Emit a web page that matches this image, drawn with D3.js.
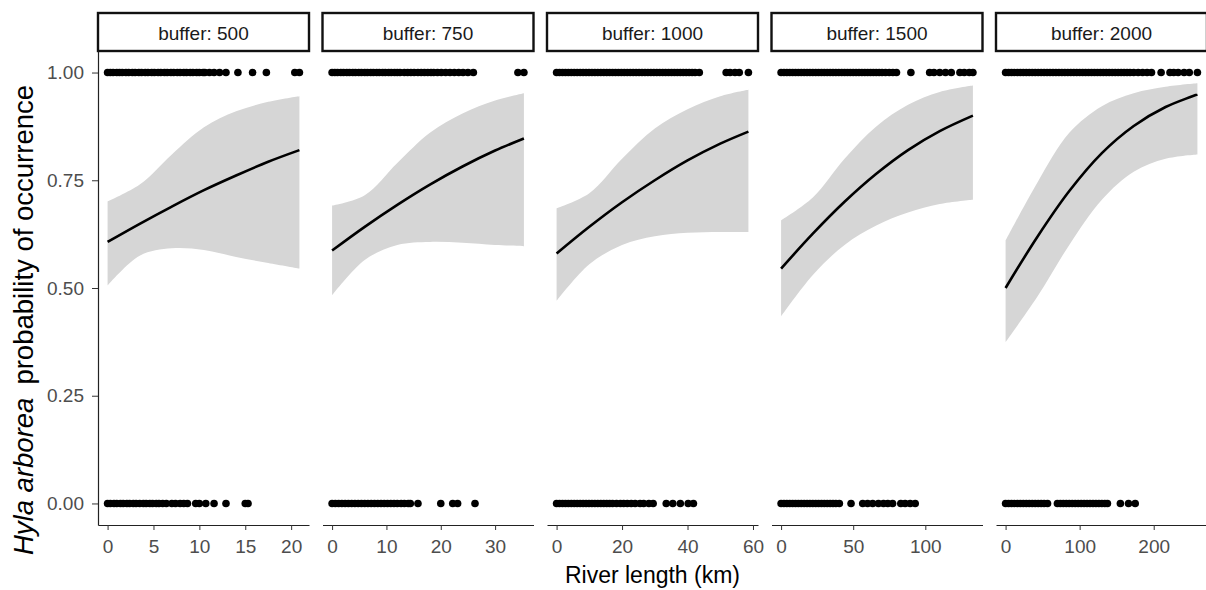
<!DOCTYPE html>
<html lang="en">
  <head>
    <meta charset="utf-8">
    <title>Hyla arborea occurrence vs river length</title>
    <style type="text/css">
      html, body{ margin: 0; padding: 0; background: white; }
      body{ font-family: "Liberation Sans", Arial, sans-serif; }
      .tick text{ fill: #4d4d4d; }
      .tick line{ stroke: #333; }
      .domain{ stroke: #222; }
    </style>
  </head>
  <body>
    <div id='svg_container'></div>

    <script src="https://d3js.org/d3.v7.min.js"></script>
    <script type="text/javascript">

      // facets
      const buffers = [500, 750, 1000, 1500, 2000];
      const xMax = [20.9, 35.3, 58.6, 133, 259];
      const xTicks = [[0, 5, 10, 15, 20], [0, 10, 20, 30], [0, 20, 40, 60], [0, 50, 100], [0, 100, 200]];
      const yTicks = [0, 0.25, 0.5, 0.75, 1];

      // observed river lengths (km) where the species was present (1) / absent (0)
      const presentX = [
        [0,0.3,0.6,1.0,1.3,1.6,2.0,2.3,2.7,3.0,3.4,3.7,4.1,4.4,4.8,5.1,5.5,5.8,6.2,6.5,6.9,7.2,7.6,7.9,8.3,8.6,9.0,9.3,9.7,10.0,10.4,10.6,11.1,11.6,12.2,12.9,14.2,15.8,17.3,20.4,20.9],
        [0,0.5,1.0,1.6,2.1,2.7,3.2,3.8,4.3,4.9,5.4,6.0,6.5,7.1,7.6,8.2,8.7,9.3,9.8,10.4,10.9,11.5,12.0,12.5,13.3,13.9,14.5,15.1,15.8,16.4,17.0,17.6,18.2,18.7,19.4,20.1,20.9,21.7,22.5,23.3,24.1,25.0,26.0,34.2,35.3],
        [0,0.9,1.8,2.7,3.6,4.5,5.4,6.3,7.2,8.1,9.0,9.9,10.8,11.7,12.6,13.5,14.4,15.3,16.2,17.1,18.0,18.9,19.8,20.7,21.6,22.5,23.4,24.3,25.2,26.1,27.0,27.9,28.8,29.7,30.6,31.5,32.4,33.3,34.2,35.1,36.0,36.9,37.8,38.7,39.6,40.5,41.4,42.3,43.6,51.8,53.0,54.5,55.8,58.6],
        [0,2,4,6,8,10,12,14,16,18,20,22,24,26,28,30,32,34,36,38,40,42,44,46,48,50,52,54,56,58,60,62,64,66,68,70,72.4,75,77.5,80,90,103,106,110,114,118,124,127,130.5,133],
        [0,4,8,12,16,20,24,28,32,36,40,44,48,52,56,60,64,68,72,76,80,84,88,92,96,100,104,108,112,116,120,124,128,132,136,140,144,148,152,156,160,164,168,173,179,185,191,197,210,222,227,233,241,248,259]
      ];
      const absentX = [
        [0,0.3,0.7,1.0,1.4,1.7,2.1,2.4,2.8,3.1,3.5,3.9,4.2,4.6,4.9,5.3,5.6,6.0,6.4,7.0,7.4,7.9,8.3,8.7,9.6,10.0,10.7,11.6,12.9,15.0,15.3],
        [0,0.6,1.2,1.8,2.4,3.0,3.6,4.2,4.8,5.4,6.0,6.6,7.2,7.8,8.4,9.0,9.6,10.2,10.8,11.4,12.0,12.7,13.3,14.0,14.4,15.8,20.0,22.2,23.1,26.3],
        [0,0.9,1.8,2.7,3.6,4.5,5.4,6.3,7.2,8.1,9.0,9.9,10.8,11.7,12.6,13.5,14.4,15.3,16.2,17.1,18.3,19.5,20.5,21.6,22.8,24.0,25.5,26.6,28.2,29.5,33.5,35.5,37.8,40.2,41.8],
        [0,2,4,6,8,10,12,14,16,18,20,22,24,26,28,30,32,34,36,38,40.4,48.5,56.6,60,63.5,67.5,71,74,77.3,83,86,89.5,93],
        [0,4,8,12,16,20,24,28,32,36,40,44,48,52,56.6,70,74,78,82,86,90,94,98,102,106,110,114,118,122,126,130,134,137.5,155,166,175]
      ];

      // fitted probability with confidence band
      const curveX = [
        [0, 3.5, 7, 10.5, 14, 17.5, 20.9],
        [0, 6, 12, 18, 24, 30, 35.3],
        [0, 10, 20, 30, 40, 50, 58.6],
        [0, 22, 44, 66, 88, 110, 133],
        [0, 43, 86, 130, 173, 216, 259]
      ];
      const fitY = [
        [0.607, 0.649, 0.689, 0.727, 0.761, 0.793, 0.820],
        [0.587, 0.642, 0.693, 0.740, 0.782, 0.819, 0.847],
        [0.580, 0.642, 0.699, 0.750, 0.796, 0.835, 0.863],
        [0.545, 0.626, 0.700, 0.765, 0.820, 0.864, 0.900],
        [0.500, 0.619, 0.725, 0.813, 0.876, 0.920, 0.949]
      ];
      const lowerY = [
        [0.506, 0.575, 0.592, 0.588, 0.572, 0.558, 0.545],
        [0.483, 0.565, 0.600, 0.607, 0.605, 0.600, 0.597],
        [0.470, 0.555, 0.600, 0.620, 0.628, 0.630, 0.630],
        [0.434, 0.530, 0.600, 0.645, 0.675, 0.695, 0.705],
        [0.374, 0.480, 0.600, 0.705, 0.770, 0.800, 0.810]
      ];
      const upperY = [
        [0.701, 0.740, 0.810, 0.873, 0.910, 0.932, 0.945],
        [0.691, 0.715, 0.790, 0.860, 0.905, 0.935, 0.952],
        [0.685, 0.720, 0.800, 0.870, 0.915, 0.945, 0.960],
        [0.657, 0.710, 0.800, 0.875, 0.925, 0.955, 0.970],
        [0.610, 0.745, 0.860, 0.922, 0.952, 0.967, 0.975]
      ];

      const w = 1206;
      const h = 590;
      const panelLeft = 98, panelStep = 224.5, panelW = 211;
      const panelTop = 51, panelBottom = 525, stripTop = 13;
      const font = '"Liberation Sans", Arial, sans-serif';

      var svg = d3.select('#svg_container').append('svg')
        .attr('width', w).attr('height', h)
        .style('display', 'block')
        .attr('font-family', font);

      var y = d3.scaleLinear().domain([-0.05, 1.05]).range([panelBottom, panelTop]);
      var smooth = d3.curveCatmullRom.alpha(0.5);

      buffers.forEach(function(b, i){
        var left = panelLeft + i * panelStep;
        var R = xMax[i];
        var x = d3.scaleLinear().domain([-0.05 * R, 1.05 * R]).range([left, left + panelW]);

        var g = svg.append('g').attr('class', 'panel');

        var band = curveX[i].map(function(v, k){
          return {x: v, fit: fitY[i][k], lo: lowerY[i][k], hi: upperY[i][k]};
        });

        g.append('path')
          .datum(band)
          .attr('fill', '#d6d6d6')
          .attr('d', d3.area()
            .x(function(d){ return x(d.x); })
            .y0(function(d){ return y(d.lo); })
            .y1(function(d){ return y(d.hi); })
            .curve(smooth));

        g.append('path')
          .datum(band)
          .attr('fill', 'none')
          .attr('stroke', 'black')
          .attr('stroke-width', 2.6)
          .attr('d', d3.line()
            .x(function(d){ return x(d.x); })
            .y(function(d){ return y(d.fit); })
            .curve(smooth));

        var pts = presentX[i].map(function(v){ return {x: v, y: 1}; })
          .concat(absentX[i].map(function(v){ return {x: v, y: 0}; }));

        g.selectAll('circle')
          .data(pts)
          .enter()
          .append('circle')
          .attr('cx', function(d){ return x(d.x); })
          .attr('cy', function(d){ return y(d.y); })
          .attr('r', 3.8)
          .attr('fill', 'black');

        // x axis
        var ax = g.append('g')
          .attr('transform', 'translate(0,' + panelBottom + ')')
          .call(d3.axisBottom(x).tickValues(xTicks[i]).tickSize(5).tickSizeOuter(0).tickPadding(10));
        ax.selectAll('text').attr('font-size', 19).attr('font-family', font);
        ax.select('.domain').attr('stroke-width', 1.2);

        // strip
        g.append('rect')
          .attr('x', left)
          .attr('y', stripTop)
          .attr('width', panelW)
          .attr('height', panelTop - stripTop)
          .attr('fill', 'white')
          .attr('stroke', '#111')
          .attr('stroke-width', 2.4);
        g.append('text')
          .attr('x', left + panelW / 2)
          .attr('y', 40)
          .attr('text-anchor', 'middle')
          .attr('font-size', 19)
          .attr('fill', '#1a1a1a')
          .text('buffer: ' + b);
      });

      // y axis (first panel only)
      var ay = svg.append('g')
        .attr('transform', 'translate(' + panelLeft + ',0)')
        .call(d3.axisLeft(y).tickValues(yTicks).tickFormat(d3.format('.2f')).tickSize(6).tickSizeOuter(0).tickPadding(8));
      ay.selectAll('text').attr('font-size', 19).attr('font-family', font);
      ay.select('.domain').attr('stroke-width', 1.2);

      // titles
      svg.append('text')
        .attr('x', panelLeft + (4 * panelStep + panelW) / 2)
        .attr('y', 583)
        .attr('text-anchor', 'middle')
        .attr('font-size', 23)
        .attr('fill', 'black')
        .text('River length (km)');

      var yt = svg.append('text')
        .attr('transform', 'translate(33,320) rotate(-90)')
        .attr('text-anchor', 'middle')
        .attr('font-size', 27.5)
        .attr('fill', 'black');
      yt.append('tspan').attr('font-style', 'italic').text('Hyla arborea');
      yt.append('tspan').attr('dx', 13).text('probability of occurrence');

    </script>
  </body>
</html>
